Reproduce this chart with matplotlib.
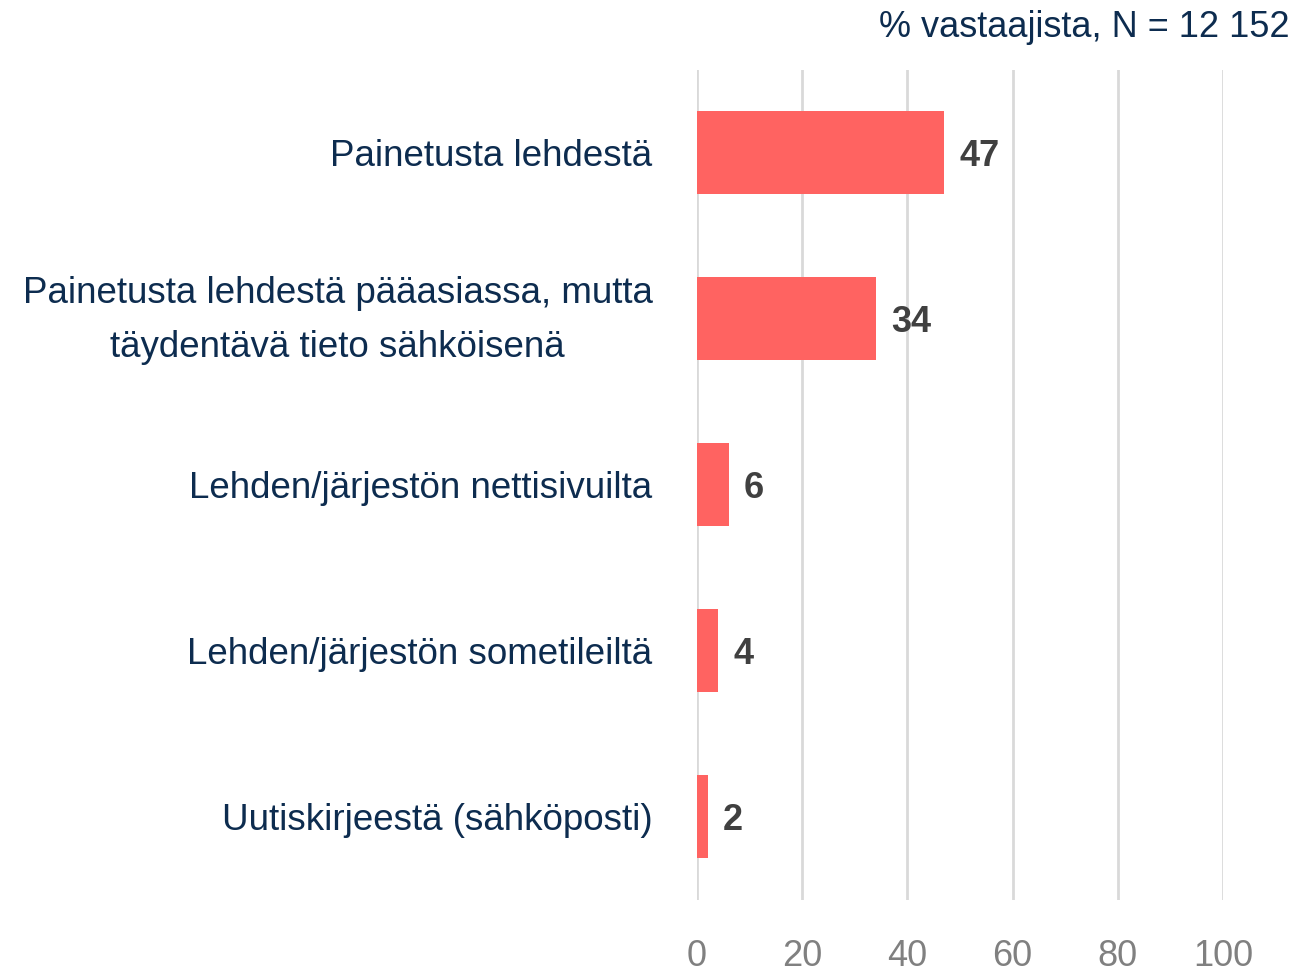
import matplotlib.pyplot as plt
import matplotlib.transforms as mtransforms

plt.rcParams['font.family'] = ['Liberation Sans', 'DejaVu Sans']

categories = [
    'Painetusta lehdestä',
    'Painetusta lehdestä pääasiassa, mutta\ntäydentävä tieto sähköisenä',
    'Lehden/järjestön nettisivuilta',
    'Lehden/järjestön sometileiltä',
    'Uutiskirjeestä (sähköposti)',
]
values = [47, 34, 6, 4, 2]
xticks = [0, 20, 40, 60, 80, 100]

navy = '#0d2c4f'
bar_color = '#ff6361'

fig = plt.figure(figsize=(12.96, 9.76), dpi=100)
ax = fig.add_axes([0.5378, 0.0779, 0.4059, 0.8504])

ypos = list(range(len(categories)))
ax.barh(ypos, values, height=0.5, color=bar_color, zorder=3)
for y, v in zip(ypos, values):
    ax.text(v + 2.9, y + 0.02, str(v), va='center', ha='left', fontsize=26,
            fontweight='bold', color='#404040')

ax.set_xlim(0, 100)
ax.set_ylim(len(categories) - 0.5, -0.5)
ax.set_xticks(xticks)
ax.set_xticklabels([str(t) for t in xticks], fontsize=26, color='#808080')
ax.set_yticks(ypos)
ax.set_yticklabels(categories, fontsize=26.5, color=navy, multialignment='center',
                   linespacing=1.72)
ax.tick_params(axis='x', length=0, pad=28)
ax.tick_params(axis='y', length=0, pad=32)
ax.grid(axis='x', color='#d9d9d9', linewidth=2, zorder=0)
for s in ax.spines.values():
    s.set_visible(False)

# nudge the two-line label up a little
lbl = ax.get_yticklabels()[1]
lbl.set_transform(lbl.get_transform() +
                  mtransforms.ScaledTranslation(0, 12 / 100, fig.dpi_scale_trans))

fig.text(0.995, 0.972, '% vastaajista, N = 12 152', ha='right', va='center',
         fontsize=26, color=navy)

fig.savefig('out.png', dpi=100)
